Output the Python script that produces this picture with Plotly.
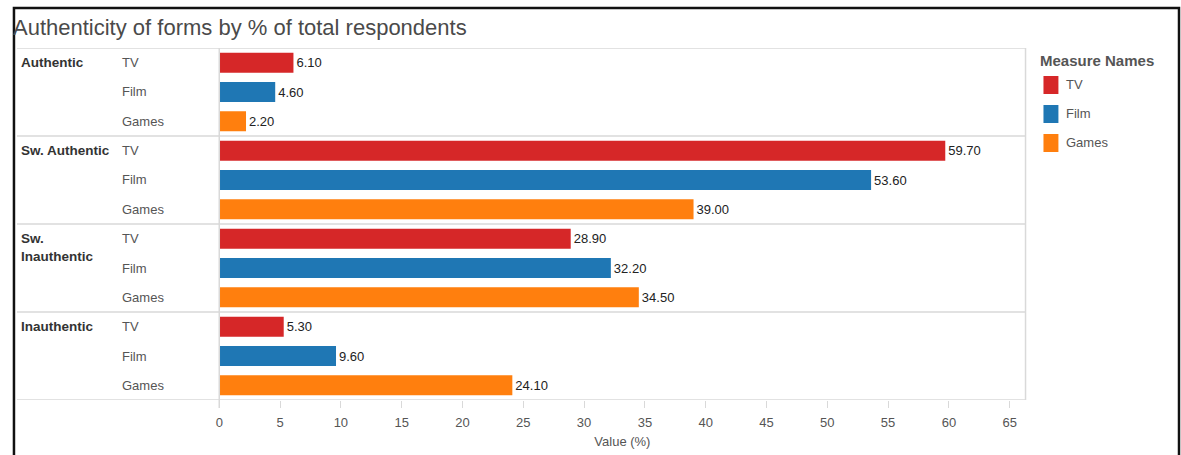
import plotly.graph_objects as go

# Survey groups (row headers) and measures (sub-rows / colour)
groups = ["Authentic", "Sw. Authentic", "Sw. Inauthentic", "Inauthentic"]
group_labels = ["Authentic", "Sw. Authentic", "Sw.<br>Inauthentic", "Inauthentic"]
measures = ["TV", "Film", "Games"]
colors = ["#d62728", "#1f77b4", "#ff7f0e"]

tv_values = [6.10, 59.70, 28.90, 5.30]
film_values = [4.60, 53.60, 32.20, 9.60]
games_values = [2.20, 39.00, 34.50, 24.10]
series = [tv_values, film_values, games_values]

x_ticks = list(range(0, 70, 5))

W, H = 1181, 455
FONT = "Liberation Sans, Arial, sans-serif"


def px(x):
    return x / W


def py(y):
    return 1 - y / H


pane_left, pane_right = 216, 1025
pane_top, pane_bottom = 48, 400
n_rows = len(groups) * len(measures)

fig = go.Figure()
for m, (name, vals, col) in enumerate(zip(measures, series, colors)):
    ys = [g * len(measures) + m for g in range(len(groups))]
    fig.add_trace(go.Bar(
        x=vals, y=ys, orientation="h", name=name,
        marker=dict(color=col, line=dict(width=0)),
        width=0.68,
        text=[f"{v:.2f}" for v in vals], textposition="outside",
        textfont=dict(family=FONT, size=13, color="#222"),
        cliponaxis=False, showlegend=False,
    ))

annotations = []
shapes = []

# Title
annotations.append(dict(
    text="Authenticity of forms by % of total respondents",
    xref="paper", yref="paper", x=px(7), y=py(27), xanchor="left", yanchor="middle",
    showarrow=False, font=dict(family=FONT, size=22, color="#4a4a4a"),
))

# Row headers
for g, glab in enumerate(group_labels):
    first_row = g * len(measures)
    annotations.append(dict(
        text=f"<b>{glab}</b>", xref="paper", yref="y", x=px(15), y=first_row - 0.33,
        xanchor="left", yanchor="top", align="left", showarrow=False,
        font=dict(family=FONT, size=13.5, color="#333"),
    ))
    for m, name in enumerate(measures):
        annotations.append(dict(
            text=name, xref="paper", yref="y", x=px(116), y=first_row + m,
            xanchor="left", yanchor="middle", showarrow=False,
            font=dict(family=FONT, size=13, color="#555"),
        ))

# Group separators and table frame
line_col = "#d9d9d9"
for k in range(len(groups) + 1):
    yv = k * len(measures) - 0.5
    shapes.append(dict(type="line", xref="paper", yref="y", x0=px(13), x1=px(pane_right),
                       y0=yv, y1=yv, line=dict(color=line_col, width=1.5)))
shapes.append(dict(type="line", xref="paper", yref="paper", x0=px(pane_left), x1=px(pane_left),
                   y0=py(pane_top), y1=py(pane_bottom + 8), line=dict(color=line_col, width=1.5)))
shapes.append(dict(type="line", xref="paper", yref="paper", x0=px(pane_right), x1=px(pane_right),
                   y0=py(pane_top), y1=py(pane_bottom), line=dict(color=line_col, width=1.5)))

# Outer frame
shapes.append(dict(type="rect", xref="paper", yref="paper", x0=px(10), x1=px(1179),
                   y0=py(470), y1=py(8), line=dict(color="#111", width=2.5)))

# Legend
annotations.append(dict(
    text="<b>Measure Names</b>", xref="paper", yref="paper", x=px(1038), y=py(61),
    xanchor="left", yanchor="middle", showarrow=False,
    font=dict(family=FONT, size=15, color="#555"),
))
for m, (name, col) in enumerate(zip(measures, colors)):
    yc = 85 + m * 29
    shapes.append(dict(type="rect", xref="paper", yref="paper", x0=px(1043), x1=px(1058),
                       y0=py(yc + 9), y1=py(yc - 9), fillcolor=col, line=dict(width=0)))
    annotations.append(dict(
        text=name, xref="paper", yref="paper", x=px(1064), y=py(yc - 1),
        xanchor="left", yanchor="middle", showarrow=False,
        font=dict(family=FONT, size=13, color="#555"),
    ))

fig.update_layout(
    width=W, height=H, margin=dict(l=0, r=0, t=0, b=0),
    paper_bgcolor="white", plot_bgcolor="white",
    barmode="overlay", showlegend=False,
    annotations=annotations, shapes=shapes,
    xaxis=dict(
        domain=[px(pane_left), px(pane_right)], range=[0, 66.3],
        tickvals=x_ticks, ticks="outside", ticklen=7, tickcolor=line_col,
        ticklabelstandoff=3,
        showgrid=False, zeroline=False, showline=False,
        tickfont=dict(family=FONT, size=13, color="#555"),
        title=dict(text="Value (%)", font=dict(family=FONT, size=13, color="#555"), standoff=8),
    ),
    yaxis=dict(
        domain=[py(pane_bottom), py(pane_top)], range=[n_rows - 0.5, -0.5],
        showticklabels=False, showgrid=False, zeroline=False, showline=False, ticks="",
    ),
    font=dict(family=FONT),
)

fig.write_html("out.html")
